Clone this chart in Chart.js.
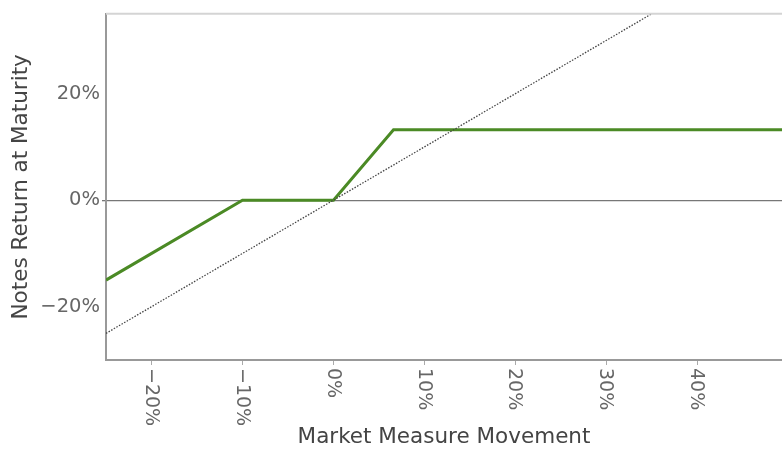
<!DOCTYPE html>
<html>
<head>
<meta charset="utf-8">
<script src="https://cdn.jsdelivr.net/npm/chart.js@4"></script>
<style>
  html, body { margin: 0; padding: 0; background: #fff; }
  #wrap { width: 782px; height: 450px; }
</style>
</head>
<body>
<div id="wrap"><canvas id="c" width="782" height="450"></canvas></div>
<script>
// market measure movement (%) and notes return (%)
const marketMoves = [-25, -10, 0, 6.6, 49.3];
const notesReturn = [-15, 0, 0, 13.2, 13.2];
// reference line: return equals market movement
const refMoves = [-25, 35];
const refReturn = [-25, 35];
// tick labels
const xTicks = [-20, -10, 0, 10, 20, 30, 40];
const yTicks = [-20, 0, 20];

const FONT = '"DejaVu Sans", sans-serif';

function pct(v) {
    return (v < 0 ? '\u2212' + Math.abs(v) : v) + '%';
}

// x labels read top-to-bottom, so draw them ourselves from the scale
const xLabelPlugin = {
    id: 'xLabels',
    afterDraw(chart) {
        const ctx = chart.ctx;
        const xs = chart.scales.x;
        ctx.save();
        ctx.fillStyle = '#666';
        ctx.font = '19px ' + FONT;
        ctx.textAlign = 'left';
        ctx.textBaseline = 'middle';
        xTicks.forEach(v => {
            const px = xs.getPixelForValue(v);
            ctx.save();
            ctx.translate(px - 1, xs.top + 8);
            ctx.rotate(Math.PI / 2);
            ctx.fillText(pct(v), 0, 0);
            ctx.restore();
        });
        // light top border
        const a = chart.chartArea;
        ctx.strokeStyle = '#d4d4d4';
        ctx.lineWidth = 2;
        ctx.beginPath();
        ctx.moveTo(a.left, a.top);
        ctx.lineTo(a.right, a.top);
        ctx.stroke();
        ctx.restore();
    }
};

new Chart(document.getElementById('c'), {
    type: 'line',
    data: {
        datasets: [
            {
                label: 'Reference',
                data: refMoves.map((x, i) => ({ x, y: refReturn[i] })),
                borderColor: '#444',
                borderWidth: 1.3,
                borderDash: [1.5, 1.5],
                pointRadius: 0,
                tension: 0
            },
            {
                label: 'Notes',
                data: marketMoves.map((x, i) => ({ x, y: notesReturn[i] })),
                borderColor: '#4b8a25',
                borderWidth: 3,
                pointRadius: 0,
                tension: 0
            }
        ]
    },
    options: {
        responsive: false,
        animation: false,
        layout: { padding: { top: 11, right: 0, left: 0, bottom: 0 } },
        plugins: {
            legend: { display: false },
            tooltip: { enabled: false }
        },
        scales: {
            x: {
                type: 'linear',
                min: -25,
                max: 49.3,
                afterBuildTicks: s => { s.ticks = xTicks.map(v => ({ value: v })); },
                afterFit: s => { s.height = 90; },
                border: { color: '#999', width: 2 },
                grid: {
                    drawOnChartArea: false,
                    drawTicks: true,
                    tickLength: 5,
                    color: '#aaa'
                },
                ticks: { display: false },
                title: {
                    display: true,
                    text: 'Market Measure Movement',
                    color: '#444',
                    font: { family: FONT, size: 21.5 },
                    padding: { top: 0, bottom: 0 }
                }
            },
            y: {
                type: 'linear',
                min: -30,
                max: 35,
                afterBuildTicks: s => { s.ticks = yTicks.map(v => ({ value: v })); },
                afterFit: s => { s.width = 106; },
                border: { color: '#999', width: 2 },
                grid: {
                    drawTicks: true,
                    tickLength: 4,
                    color: ctx => ctx.tick && ctx.tick.value === 0 ? '#777' : 'rgba(0,0,0,0)',
                    lineWidth: 1.3
                },
                ticks: {
                    color: '#666',
                    padding: 2,
                    font: { family: FONT, size: 19.5 },
                    callback: v => pct(v)
                },
                title: {
                    display: true,
                    text: 'Notes Return at Maturity',
                    color: '#444',
                    font: { family: FONT, size: 21.5 },
                    padding: { top: 9, bottom: 0 }
                }
            }
        }
    },
    plugins: [xLabelPlugin]
});
</script>
</body>
</html>
